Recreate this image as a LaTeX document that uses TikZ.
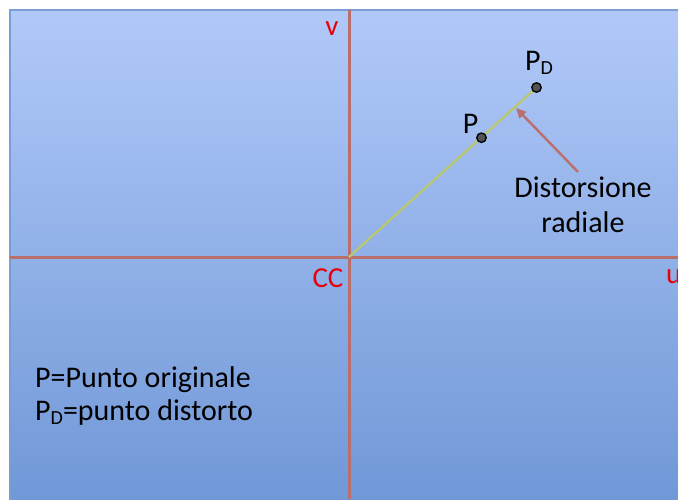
\documentclass[tikz,border=0pt]{standalone}
\usepackage{fontspec}
\setmainfont{Carlito}
\usetikzlibrary{arrows.meta}
\definecolor{bgtop}{HTML}{B1C9F9}
\definecolor{bgbot}{HTML}{6F97D6}
\definecolor{bgline}{HTML}{7A9DD6}
\definecolor{axis}{HTML}{BA6F6C}
\definecolor{ray}{HTML}{B9C76E}
\definecolor{lblred}{HTML}{E8000B}
\newcommand{\subD}{\raisebox{-0.3ex}{\fontsize{20}{20}\selectfont D}}
\tikzset{
  axisline/.style={draw=axis, line width=3pt},
  redlbl/.style={text=lblred, font=\fontsize{29}{30}\selectfont, inner sep=0pt},
  blklbl/.style={text=black, font=\fontsize{30}{34}\selectfont, inner sep=0pt},
  dot/.style={circle, draw=black, line width=1.3pt, fill=gray!65!black, minimum size=9.5pt, inner sep=0pt},
}
\begin{document}
\begin{tikzpicture}[x=1pt,y=-1pt]
\useasboundingbox (0,0) rectangle (678,499);
\fill[white] (0,0) rectangle (678,499);
\shade[top color=bgtop, bottom color=bgbot] (10,10) rectangle (690,510);
\draw[bgline, line width=2pt] (10,510) -- (10,10) -- (690,10);
% axes
\coordinate (vtop) at (349,10);
\coordinate (vbot) at (349,499);
\coordinate (hl) at (10,257);
\coordinate (hr) at (678,257);
\coordinate (cc) at (349,257);
\draw[axisline] (vtop) -- (vbot);
\draw[axisline] (hl) -- (hr);
% points
\coordinate (pc) at (481.5,137.7);
\coordinate (pdc) at (536.5,87.5);
\draw[ray, line width=2.3pt] (cc) -- (pdc);
\node[dot] (p) at (pc) {};
\node[dot] (pd) at (pdc) {};
% arrow
\coordinate (atip) at (516,108);
\coordinate (atail) at (578,172);
\draw[axis, line width=2.4pt, -{Triangle[length=10pt,width=9pt]}] (atail) -- (atip);
% labels
\node[redlbl] (vl) at (332,29) {v};
\node[redlbl] (ccl) at (328,278) {CC};
\node[redlbl, anchor=west] (ul) at (666,277) {u};
\node[blklbl, anchor=base] (pl) at (470.5,133) {P};
\node[blklbl, anchor=base west] (pdl) at (525,70) {P\subD};
\node[blklbl, anchor=base] (dist) at (583,197) {Distorsione};
\node[blklbl, anchor=base] (rad) at (583,232) {radiale};
\node[blklbl, anchor=base west] (leg1) at (35,387) {P=Punto originale};
\node[blklbl, anchor=base west] (leg2) at (35,420) {P\subD=punto distorto};
\end{tikzpicture}
\end{document}
